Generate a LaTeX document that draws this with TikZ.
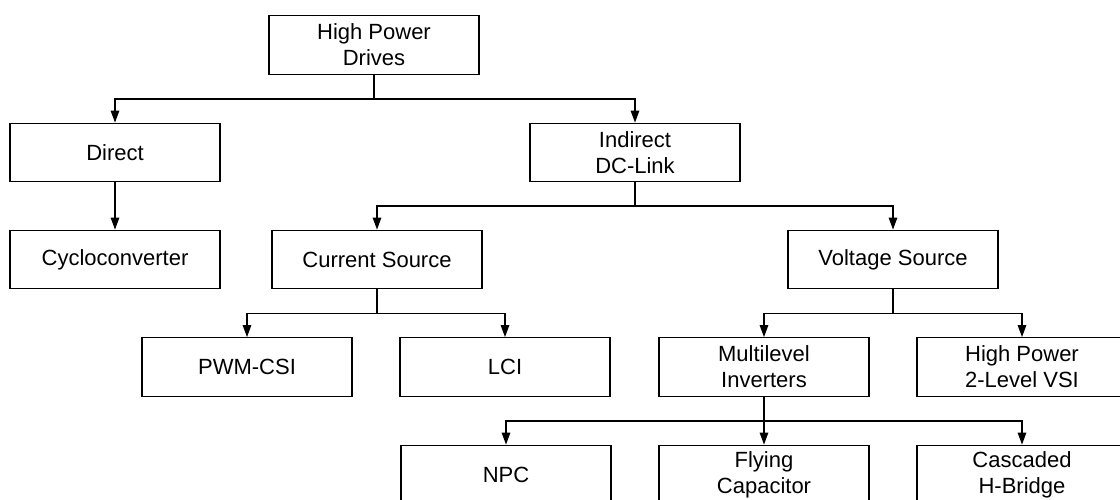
\documentclass[tikz,border=0pt]{standalone}
\usepackage{fontspec}
\setmainfont{Liberation Sans}
\usetikzlibrary{arrows.meta}

\begin{document}
\begin{tikzpicture}[
    x=1pt, y=-1pt,
    every node/.style={font=\fontsize{22}{26}\selectfont},
    blk/.style={draw, line width=1.3pt, minimum width=210pt, minimum height=58.5pt,
                inner sep=0pt, align=center},
    link/.style={line width=1.3pt},
    arr/.style={link, -{Triangle[length=12pt, width=8.5pt]}}
]
\useasboundingbox (0,0) rectangle (1120,499);

% level 1
\node[blk] (hpd) at (374,45) {High Power\\Drives};

% level 2
\node[blk] (dir) at (115,152.5) {Direct};
\node[blk] (ind) at (635,152.5) {Indirect\\DC-Link};

% level 3
\node[blk] (cyc) at (115,259.5) {Cycloconverter};
\node[blk] (cur) at (377,259.5) {Current Source};
\node[blk] (vol) at (893,259.5) {Voltage Source};

% level 4
\node[blk] (pwm) at (247,367) {PWM-CSI};
\node[blk] (lci) at (505,367) {LCI};
\node[blk] (mli) at (764,367) {Multilevel\\Inverters};
\node[blk] (vsi) at (1022,367) {High Power\\2-Level VSI};

% level 5
\node[blk] (npc) at (506,474.5) {NPC};
\node[blk] (fly) at (764,474.5) {Flying\\Capacitor};
\node[blk] (chb) at (1022,474.5) {Cascaded\\H-Bridge};

% branch points
\coordinate (j1) at (374,99);
\coordinate (j2) at (635,206);
\coordinate (j3) at (377,313.5);
\coordinate (j4) at (893,313.5);
\coordinate (j5) at (764,421);

% connectors
\draw[link] (hpd.south) -- (j1);
\draw[arr] (j1) -| (dir.north);
\draw[arr] (j1) -| (ind.north);

\draw[arr] (dir.south) -- (cyc.north);

\draw[link] (ind.south) -- (j2);
\draw[arr] (j2) -| (cur.north);
\draw[arr] (j2) -| (vol.north);

\draw[link] (cur.south) -- (j3);
\draw[arr] (j3) -| (pwm.north);
\draw[arr] (j3) -| (lci.north);

\draw[link] (vol.south) -- (j4);
\draw[arr] (j4) -| (mli.north);
\draw[arr] (j4) -| (vsi.north);

\draw[link] (mli.south) -- (j5);
\draw[arr] (j5) -| (npc.north);
\draw[arr] (j5) -- (fly.north);
\draw[arr] (j5) -| (chb.north);
\end{tikzpicture}
\end{document}
